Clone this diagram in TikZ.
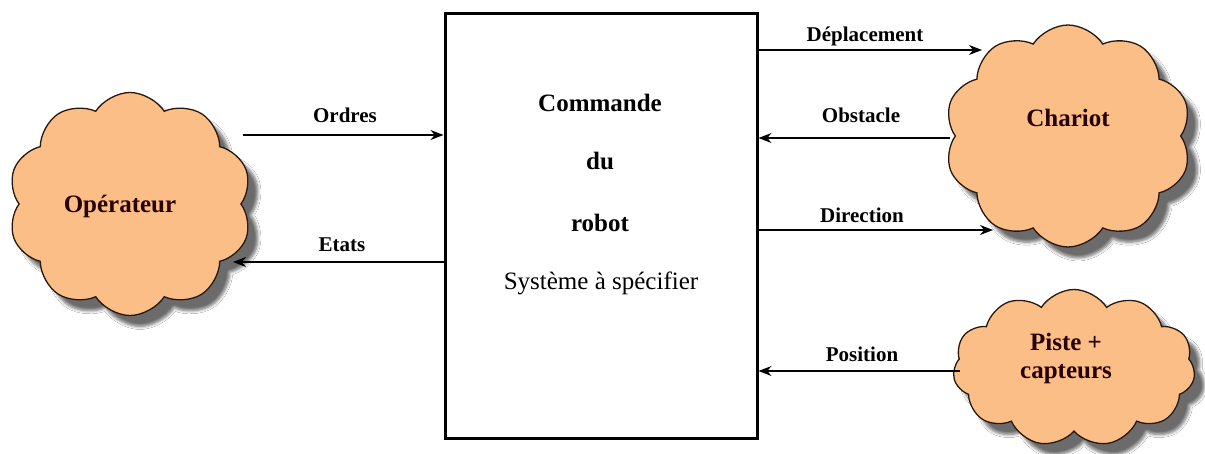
\documentclass[tikz,border=0pt]{standalone}
\usepackage{fontspec}
\setmainfont{Liberation Serif}
\usetikzlibrary{shapes.symbols,shadows.blur,arrows.meta}
\definecolor{cloudfill}{RGB}{252,190,135}
\definecolor{cloudline}{RGB}{40,25,15}
\tikzset{
  cloudbox/.style={cloud, cloud puffs=10, cloud puff arc=115, aspect=1.1,
    draw=cloudline, fill=cloudfill, line width=1.3pt, inner sep=0pt,
    blur shadow={shadow xshift=10pt, shadow yshift=-11pt, shadow blur radius=3pt,
      shadow opacity=58, shadow blur steps=6}},
  sysbox/.style={draw=black, line width=3pt, rectangle, inner sep=0pt},
  flow/.style={line width=1.3pt, -{Stealth[length=13pt,width=10pt]}},
  flowlabel/.style={font=\fontsize{21}{24}\selectfont\bfseries, anchor=base},
  cloudtext/.style={font=\fontsize{25}{29}\selectfont\bfseries, anchor=base, text=black!85!red},
  boxtext/.style={font=\fontsize{25}{29}\selectfont\bfseries, anchor=base},
}
\begin{document}
\begin{tikzpicture}[x=1pt, y=-1pt]
  \useasboundingbox[fill=white] (0,0) rectangle (1205,454);

  % central system
  \node[sysbox, minimum width=312pt, minimum height=424pt] (box) at (601,226) {};
  \node[boxtext] (t1) at (600,112) {Commande};
  \node[boxtext] (t2) at (600,170) {du};
  \node[boxtext] (t3) at (600,232) {robot};
  \node[font=\fontsize{25}{29}\selectfont, anchor=base] (t4) at (601,290) {Système à spécifier};

  % external actors
  \node[cloudbox, minimum width=244pt, minimum height=223pt] (op) at (130,204) {};
  \node[cloudbox, minimum width=247pt, minimum height=222pt] (ch) at (1068,136) {};
  \node[cloudbox, cloud puffs=11, aspect=1.6, minimum width=242pt, minimum height=157pt] (ps) at (1074,368) {};

  \node[cloudtext] (opt) at (120,213) {Opérateur};
  \node[cloudtext] (cht) at (1068,127) {Chariot};
  \node[cloudtext] (pst1) at (1066,350) {Piste +};
  \node[cloudtext] (pst2) at (1066,378) {capteurs};

  % connector end points on the clouds
  \coordinate (opA) at (243,135);
  \coordinate (opB) at (233,262);
  \coordinate (chA) at (982,50);
  \coordinate (chB) at (950,138);
  \coordinate (chC) at (993,230);
  \coordinate (psA) at (960,371);

  % flows
  \draw[flow] (opA) -- (box.west |- opA);
  \draw[flow] (box.west |- opB) -- (opB);
  \draw[flow] (box.east |- chA) -- (chA);
  \draw[flow] (chB) -- (box.east |- chB);
  \draw[flow] (box.east |- chC) -- (chC);
  \draw[flow] (psA) -- (box.east |- psA);

  \node[flowlabel] (l1) at (345,123) {Ordres};
  \node[flowlabel] (l2) at (342,252) {Etats};
  \node[flowlabel] (l3) at (865,42) {Déplacement};
  \node[flowlabel] (l4) at (861,123) {Obstacle};
  \node[flowlabel] (l5) at (862,223) {Direction};
  \node[flowlabel] (l6) at (862,362) {Position};
\end{tikzpicture}
\end{document}
